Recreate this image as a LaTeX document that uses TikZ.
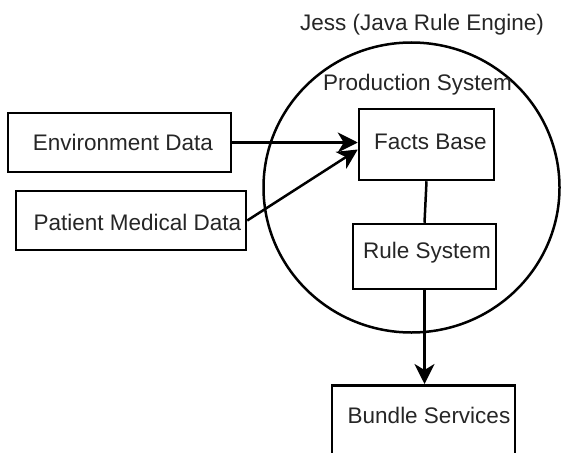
\documentclass[tikz,border=0pt]{standalone}
\usepackage{fontspec}
\setmainfont{Liberation Sans}
\usetikzlibrary{arrows.meta,shapes.geometric,calc}
\definecolor{txt}{HTML}{262626}
\tikzset{
  box/.style={draw=black, line width=2.5pt, rectangle, inner sep=0pt},
  lbl/.style={text=txt, inner sep=0pt, font=\fontsize{22.5}{27}\selectfont},
  conn/.style={draw=black, line width=2.5pt},
  arr/.style={conn, -{Stealth[length=20pt,width=20pt,inset=6pt]}}
}
\begin{document}
\begin{tikzpicture}[x=1pt,y=-1pt]
\clip (0,0) rectangle (561,452);
\fill[white] (0,0) rectangle (561,452);
% engine circle
\node[ellipse, draw=black, line width=2.5pt, minimum width=296pt, minimum height=290pt, inner sep=0pt] (engine) at (411.5,187.5) {};
\node[lbl] (jess) at (422,25) {Jess (Java Rule Engine)};
\node[lbl] (prod) at (417.5,85) {Production System};
% boxes
\node[box, minimum width=223pt, minimum height=59pt] (env) at (119.5,142.5) {};
\node[lbl] (envt) at (123,142) {Environment Data};
\node[box, minimum width=230pt, minimum height=59pt] (pat) at (131,220.5) {};
\node[lbl] (patt) at (137.5,222) {Patient Medical Data};
\node[box, minimum width=135pt, minimum height=71pt] (facts) at (426.5,144.5) {};
\node[lbl] (factst) at (430.5,142) {Facts Base};
\node[box, minimum width=143pt, minimum height=65pt] (rule) at (424.5,256.5) {};
\node[lbl] (rulet) at (427,253) {Rule System};
\node[box, minimum width=183pt, minimum height=100pt, anchor=north] (bundle) at (423.5,384) {};
\node[lbl] (bundlet) at (429,415) {Bundle Services};
% connectors
\draw[arr] (env.east) -- (env.east -| facts.west);
\draw[arr] (pat.east) -- ($(facts.west)+(0,5)$);
\draw[conn] (facts.south) -- (rule.north);
\draw[arr] (rule.south) -- (rule.south |- bundle.north);
\end{tikzpicture}
\end{document}
